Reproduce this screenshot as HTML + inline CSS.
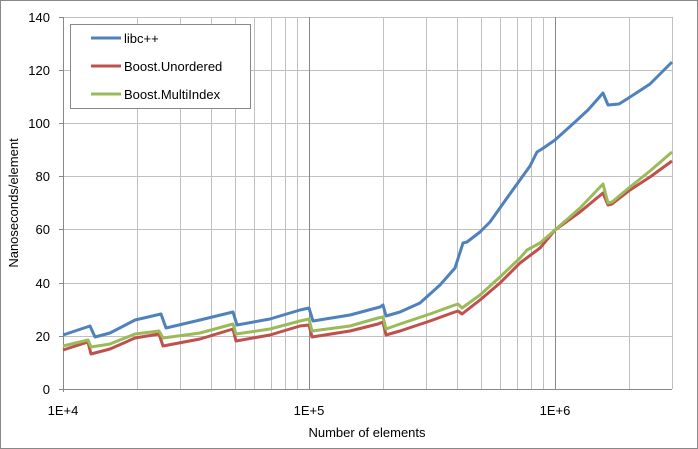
<!DOCTYPE html>
<html><head><meta charset="utf-8"><style>
body{margin:0;background:#fff;}
svg{display:block;font-family:"Liberation Sans",sans-serif;}
</style></head><body>
<svg width="698" height="449" viewBox="0 0 698 449">
<rect x="0.5" y="0.5" width="697" height="448" fill="#fff" stroke="#888"/>
<g stroke="#c0c0c0" stroke-width="1">
<line x1="63" y1="17.5" x2="672" y2="17.5"/>
<line x1="63" y1="70.5" x2="672" y2="70.5"/>
<line x1="63" y1="123.5" x2="672" y2="123.5"/>
<line x1="63" y1="176.5" x2="672" y2="176.5"/>
<line x1="63" y1="229.5" x2="672" y2="229.5"/>
<line x1="63" y1="283.5" x2="672" y2="283.5"/>
<line x1="63" y1="336.5" x2="672" y2="336.5"/>
<line x1="137.5" y1="17" x2="137.5" y2="389"/>
<line x1="180.5" y1="17" x2="180.5" y2="389"/>
<line x1="211.5" y1="17" x2="211.5" y2="389"/>
<line x1="235.5" y1="17" x2="235.5" y2="389"/>
<line x1="254.5" y1="17" x2="254.5" y2="389"/>
<line x1="271.5" y1="17" x2="271.5" y2="389"/>
<line x1="285.5" y1="17" x2="285.5" y2="389"/>
<line x1="297.5" y1="17" x2="297.5" y2="389"/>
<line x1="383.5" y1="17" x2="383.5" y2="389"/>
<line x1="426.5" y1="17" x2="426.5" y2="389"/>
<line x1="457.5" y1="17" x2="457.5" y2="389"/>
<line x1="481.5" y1="17" x2="481.5" y2="389"/>
<line x1="500.5" y1="17" x2="500.5" y2="389"/>
<line x1="517.5" y1="17" x2="517.5" y2="389"/>
<line x1="531.5" y1="17" x2="531.5" y2="389"/>
<line x1="543.5" y1="17" x2="543.5" y2="389"/>
<line x1="629.5" y1="17" x2="629.5" y2="389"/>
<line x1="672.5" y1="17" x2="672.5" y2="389"/>
</g>
<g stroke="#888" stroke-width="1">
<line x1="309.5" y1="17" x2="309.5" y2="389"/>
<line x1="555.5" y1="17" x2="555.5" y2="389"/>
<line x1="63.5" y1="17" x2="63.5" y2="392"/>
<line x1="59" y1="389.5" x2="672" y2="389.5"/>
<line x1="59" y1="17.5" x2="63" y2="17.5"/><line x1="59" y1="70.5" x2="63" y2="70.5"/>
<line x1="59" y1="123.5" x2="63" y2="123.5"/><line x1="59" y1="176.5" x2="63" y2="176.5"/>
<line x1="59" y1="229.5" x2="63" y2="229.5"/><line x1="59" y1="283.5" x2="63" y2="283.5"/>
<line x1="59" y1="336.5" x2="63" y2="336.5"/>
</g>
<g font-size="13" fill="#000" text-anchor="end">
<text x="50" y="22">140</text><text x="50" y="75">120</text><text x="50" y="128">100</text>
<text x="50" y="181">80</text><text x="50" y="234">60</text><text x="50" y="288">40</text>
<text x="50" y="341">20</text><text x="50" y="394">0</text>
</g>
<g font-size="13" text-anchor="middle">
<text x="63" y="415">1E+4</text><text x="309" y="415">1E+5</text><text x="555" y="415">1E+6</text>
<text x="367" y="437">Number of elements</text>
<text transform="translate(18,203) rotate(-90)">Nanoseconds/element</text>
</g>
<g fill="none" stroke-width="3" stroke-linejoin="round">
<polyline stroke="#c0504d" points="63,350 88,342 91,354 110,349 135,338 159,334 163,346 200,339 233,329 236,341 270,335 300,326 309,325 312,337 350,331 378,324 383,322 386,335 400,331 430,321 452,313 458,311 462,314 480,300 500,283 520,263 540,248 555,230 580,212 603,193 608,205 612,204 630,190 650,177 672,161"/>
<polyline stroke="#9bbb59" points="63,346 88,340 91,347 110,344 135,334 159,331 163,338 200,333 233,324 236,334 270,329 300,321 309,319 312,331 350,326 378,318 383,317 386,329 400,324 430,314 452,306 458,304 462,308 480,295 500,277 520,258 527,250 540,243 555,230 580,208 603,184 608,203 612,202 630,187 650,171 672,152"/>
<polyline stroke="#4f81bd" points="63,335 90,326 95,337 110,333 135,320 161,314 166,328 200,320 233,312 237,325 270,319 300,310 309,308 313,321 350,315 380,307 383,305 386,316 400,312 420,303 440,285 455,268 463,243 467,242 480,232 490,222 507,198 530,166 537,152 542,149 555,140 575,122 588,110 603,93 608,105 619,104 627,99 650,84 672,62"/>
</g>
<rect x="70.5" y="24.5" width="180" height="84" fill="#fff" stroke="#888"/>
<g stroke-width="3">
<line x1="91" y1="38" x2="121" y2="38" stroke="#4f81bd"/>
<line x1="91" y1="66" x2="121" y2="66" stroke="#c0504d"/>
<line x1="91" y1="94" x2="121" y2="94" stroke="#9bbb59"/>
</g>
<g font-size="13">
<text x="124" y="43">libc++</text>
<text x="124" y="71">Boost.Unordered</text>
<text x="124" y="99">Boost.MultiIndex</text>
</g>
</svg>
</body></html>
